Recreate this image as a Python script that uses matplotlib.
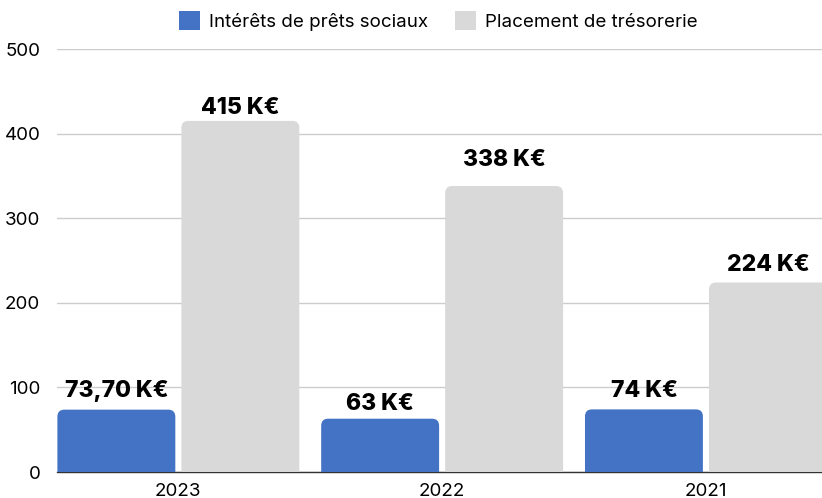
import numpy as np
import matplotlib
matplotlib.use('Agg')
import matplotlib.pyplot as plt
from matplotlib.patches import PathPatch, Patch
from matplotlib.path import Path

plt.rcParams['font.family'] = ['Inter', 'DejaVu Sans']

years = ['2023', '2022', '2021']
interets = [73.70, 63, 74]
placement = [415, 338, 224]
labels_interets = ['73,70 K€', '63 K€', '74 K€']
labels_placement = ['415 K€', '338 K€', '224 K€']
series_names = ['Intérêts de prêts sociaux', 'Placement de trésorerie']
colors = ['#4472C4', '#D9D9D9']

# gap in pixels between bar top and label baseline (as placed in the original)
pad_interets = [13, 9, 12]
pad_placement = [7, 20, 11]

W, H = 822, 498
fig = plt.figure(figsize=(W / 100, H / 100), dpi=100)
ax = fig.add_axes([57 / W, 1 - 472 / H, (W - 57) / W, (472 - 49) / H])

x = np.arange(len(years))
bw = 0.447
off = 0.235
px_per_unit = (472 - 49) / 500


def round_top(ax, rect, rx, ry):
    x0, y0 = rect.get_x(), rect.get_y()
    w, h = rect.get_width(), rect.get_height()
    x1, y1 = x0 + w, y0 + h
    ry = min(ry, h)
    verts = [(x0, y0), (x0, y1 - ry), (x0, y1), (x0 + rx, y1),
             (x1 - rx, y1), (x1, y1), (x1, y1 - ry), (x1, y0), (x0, y0)]
    codes = [Path.MOVETO, Path.LINETO, Path.CURVE3, Path.CURVE3,
             Path.LINETO, Path.CURVE3, Path.CURVE3, Path.LINETO, Path.CLOSEPOLY]
    p = PathPatch(Path(verts, codes), facecolor=rect.get_facecolor(),
                  edgecolor='none', zorder=3)
    ax.add_patch(p)
    rect.set_visible(False)


ax.set_xlim(-0.46, 2.44)
ax.set_ylim(0, 500)

rx = 7 / 264
ry = 7 / px_per_unit
for vals, labs, pads, sign, col in [(interets, labels_interets, pad_interets, -1, colors[0]),
                                    (placement, labels_placement, pad_placement, 1, colors[1])]:
    bars = ax.bar(x + sign * off, vals, bw, color=col, zorder=3)
    for b, lab, pad in zip(bars, labs, pads):
        round_top(ax, b, rx, ry)
        ax.text(b.get_x() + b.get_width() / 2, b.get_height() + pad / px_per_unit, lab,
                ha='center', va='baseline', fontsize=16.5, fontweight='heavy',
                color='#000000', zorder=4)

ax.set_yticks([0, 100, 200, 300, 400, 500])
ax.set_xticks(x)
ax.set_xticklabels(years)
ax.grid(axis='y', color='#CCCCCC', linewidth=1, zorder=0)
ax.set_axisbelow(True)
for s in ['top', 'right', 'left']:
    ax.spines[s].set_visible(False)
ax.spines['bottom'].set_color('#333333')
ax.spines['bottom'].set_linewidth(1)
ax.tick_params(axis='y', length=0, pad=12, labelsize=13.5, labelcolor='#000000')
ax.tick_params(axis='x', length=0, pad=8, labelsize=13.5, labelcolor='#000000')

handles = [Patch(facecolor=c, edgecolor='none') for c in colors]
fig.legend(handles, series_names, loc='center', bbox_to_anchor=(438 / W, 1 - 21 / H),
           ncol=2, frameon=False, fontsize=13.5, handlelength=1.15, handleheight=1.15,
           handletextpad=0.45, columnspacing=1.45)

fig.savefig('out.png', dpi=100)
